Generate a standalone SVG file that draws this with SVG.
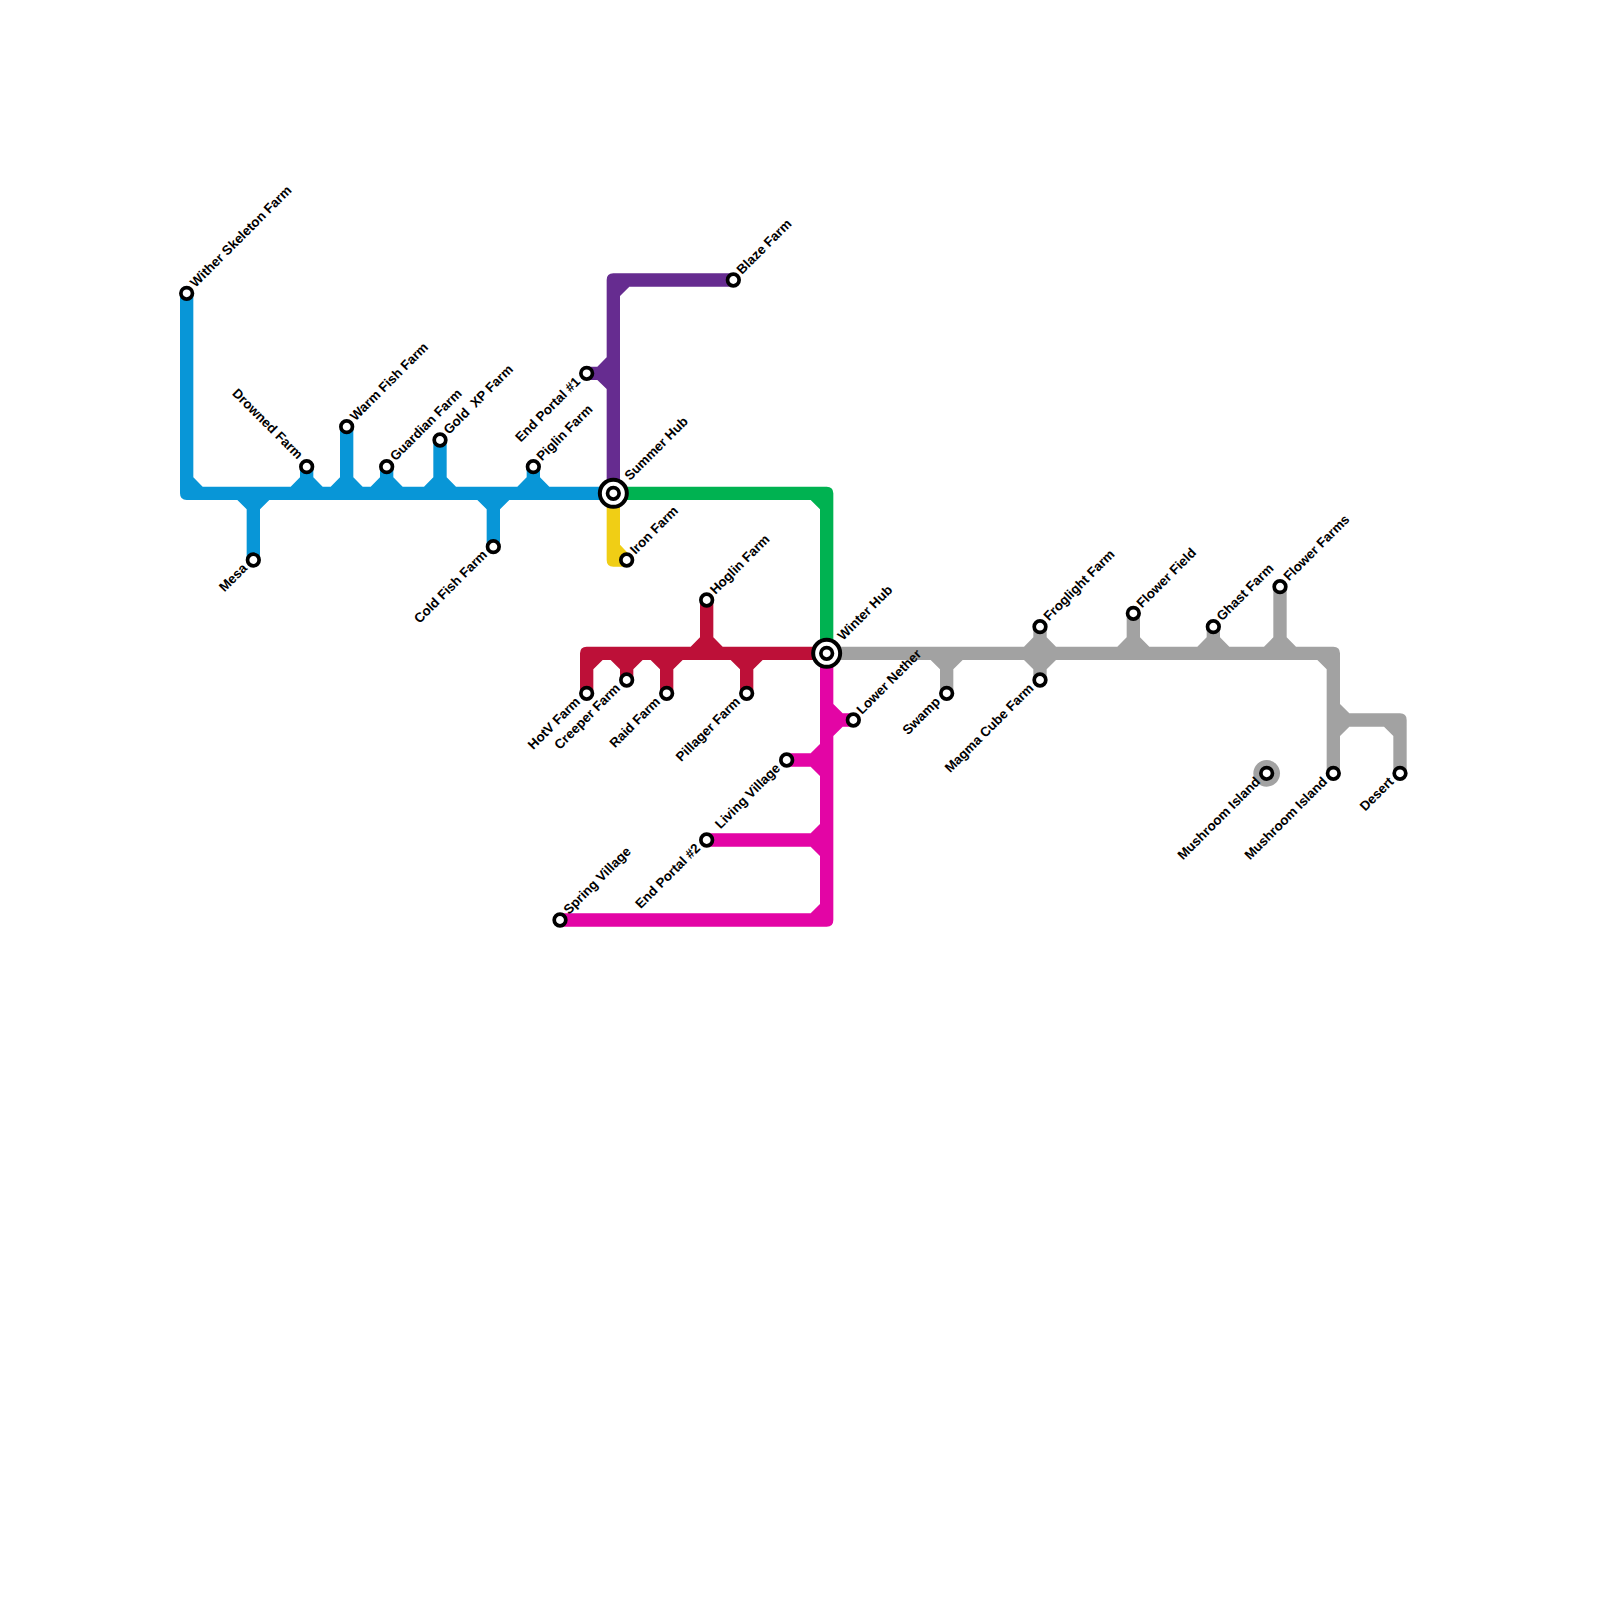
<svg xmlns="http://www.w3.org/2000/svg" width="1600" height="1600" viewBox="0 0 1600 1600">
<style>
text{font-family:"Liberation Sans",Arial,sans-serif;font-weight:700;font-size:13.33px;fill:#000;white-space:pre}
.e{text-anchor:end}
.st{fill:#fff;stroke:#000;stroke-width:3.7}
.hub{fill:#fff;stroke:#000;stroke-width:4}
</style>
<defs>
<circle id="s" class="st" r="5.8"/>
</defs>
<rect width="1600" height="1600" fill="#fff"/>
<g id="connectors">
<path id="line-blue" fill="#0896d7" d="M180 293.33H193.33V477.33L202.67 486.67H290.67L300 477.33V466.67H313.33V477.33L322.67 486.67H330.67L340 477.33V426.67H353.33V477.33L362.67 486.67H370.67L380 477.33V466.67H393.33V477.33L402.67 486.67H424L433.33 477.33V440H446.67V477.33L456 486.67H517.33L526.67 477.33V466.67H540V477.33L549.33 486.67H613.33V500H509.33L500 509.33V546.67H486.67V509.33L477.33 500H186.67Q180 500 180 493.33Z"/>
<path id="line-blue-mesa" fill="#0896d7" d="M237.33 499H269.33V500L260 509.33V560H246.67V509.33L237.33 500Z"/>
<path id="line-purple" fill="#662c90" d="M613.33 273.33H733.33V286.67H629.33L620 296V493.33H606.67V389L597.33 380H586.67V366.67H597.33L606.67 357.33V280Q606.67 273.33 613.33 273.33Z"/>
<path id="line-yellow" fill="#f0ce15" d="M606.67 493.33H620V544.67L628 553.33L626.67 566.67H613.33Q606.67 566.67 606.67 560Z"/>
<path id="line-green" fill="#00b251" d="M613.33 486.67H826.67Q833.33 486.67 833.33 493.33V653.33H820V509.33L810.67 500H613.33Z"/>
<path id="line-red" fill="#bd1038" d="M586.67 646.67H690.67L700 637.33V600H713.33V637.33L722.67 646.67H826.67V660H762.67L753.33 669.33V693.33H740V669.33L730.67 660H682.67L673.33 669.33V693.33H660V669.33L650.67 660H642.67L633.33 669.33V680H620V669.33L610.67 660H602.67L593.33 669.33V693.33H580V653.33Q580 646.67 586.67 646.67Z"/>
<path id="line-pink" fill="#e305a5" d="M820 653.33H833.33V704L842.67 713.33H853.33V726.67H842.67L833.33 736V920Q833.33 926.67 826.67 926.67H560V913.33H810.67L820 904V856L810.67 846.67H706.67V833.33H810.67L820 824V776L810.67 766.67H786.67V753.33H810.67L820 744Z"/>
<path id="line-gray" fill="#a2a2a2" d="M826.67 646.67H1024L1033.33 637.33V626.67H1046.67V637.33L1056 646.67H1117.33L1126.67 637.33V613.33H1140V637.33L1149.33 646.67H1197.33L1206.67 637.33V626.67H1220V637.33L1229.33 646.67H1264L1273.33 637.33V586.67H1286.67V637.33L1296 646.67H1333.33Q1340 646.67 1340 653.33V704L1349.33 713.33H1400Q1406.67 713.33 1406.67 720V773.33H1393.33V736L1384 726.67H1349.33L1340 736V773.33H1326.67V669.33L1317.33 660H1056L1046.67 669.33V680H1033.33V669.33L1024 660H962.67L953.33 669.33V693.33H940V669.33L930.67 660H826.67Z"/>
<circle id="line-gray-iso" cx="1266.67" cy="773.33" r="13.33" fill="#a2a2a2"/>
</g>
<g id="n-wither"><use href="#s" x="186.67" y="293.33"/><text transform="translate(195.5 288) rotate(-45)">Wither Skeleton Farm</text></g>
<g id="n-mesa"><use href="#s" x="253.33" y="560"/><text class="e" transform="translate(248 569) rotate(-45)">Mesa</text></g>
<g id="n-drowned"><use href="#s" x="306.67" y="466.67"/><text class="e" transform="translate(297.5 460) rotate(45)">Drowned Farm</text></g>
<g id="n-warm"><use href="#s" x="346.67" y="426.67"/><text transform="translate(355.5 421.5) rotate(-45)">Warm Fish Farm</text></g>
<g id="n-guardian"><use href="#s" x="386.67" y="466.67"/><text transform="translate(395.5 461.5) rotate(-45)">Guardian Farm</text></g>
<g id="n-gold"><use href="#s" x="440" y="440"/><text transform="translate(449 435) rotate(-45)">Gold  XP Farm</text></g>
<g id="n-cold"><use href="#s" x="493.33" y="546.67"/><text class="e" transform="translate(488 555.5) rotate(-45)">Cold Fish Farm</text></g>
<g id="n-piglin"><use href="#s" x="533.33" y="466.67"/><text transform="translate(542 461.5) rotate(-45)">Piglin Farm</text></g>
<g id="n-end1"><use href="#s" x="586.67" y="373.33"/><text class="e" transform="translate(581 382.5) rotate(-45)">End Portal #1</text></g>
<g id="n-blaze"><use href="#s" x="733.33" y="280"/><text transform="translate(742 275) rotate(-45)">Blaze Farm</text></g>
<g id="n-iron"><use href="#s" x="626.67" y="560"/><text transform="translate(635.5 555) rotate(-45)">Iron Farm</text></g>
<g id="n-summer"><circle class="hub" cx="613.33" cy="493.33" r="13.5"/><use href="#s" x="613.33" y="493.33"/><text transform="translate(630 481) rotate(-45)">Summer Hub</text></g>
<g id="n-winter"><circle class="hub" cx="826.67" cy="653.33" r="13.5"/><use href="#s" x="826.67" y="653.33"/><text transform="translate(843 641) rotate(-45)">Winter Hub</text></g>
<g id="n-hotv"><use href="#s" x="586.67" y="693.33"/><text class="e" transform="translate(581 702.5) rotate(-45)">HotV Farm</text></g>
<g id="n-creeper"><use href="#s" x="626.67" y="680"/><text class="e" transform="translate(621 689) rotate(-45)">Creeper Farm</text></g>
<g id="n-raid"><use href="#s" x="666.67" y="693.33"/><text class="e" transform="translate(661 702.5) rotate(-45)">Raid Farm</text></g>
<g id="n-pillager"><use href="#s" x="746.67" y="693.33"/><text class="e" transform="translate(741 702.5) rotate(-45)">Pillager Farm</text></g>
<g id="n-hoglin"><use href="#s" x="706.67" y="600"/><text transform="translate(715.5 595) rotate(-45)">Hoglin Farm</text></g>
<g id="n-lower"><use href="#s" x="853.33" y="720"/><text transform="translate(862 715) rotate(-45)">Lower Nether</text></g>
<g id="n-living"><use href="#s" x="786.67" y="760"/><text class="e" transform="translate(781 769) rotate(-45)">Living Village</text></g>
<g id="n-end2"><use href="#s" x="706.67" y="840"/><text class="e" transform="translate(701 849) rotate(-45)">End Portal #2</text></g>
<g id="n-spring"><use href="#s" x="560" y="920"/><text transform="translate(569 915) rotate(-45)">Spring Village</text></g>
<g id="n-swamp"><use href="#s" x="946.67" y="693.33"/><text class="e" transform="translate(941 702.5) rotate(-45)">Swamp</text></g>
<g id="n-froglight"><use href="#s" x="1040" y="626.67"/><text transform="translate(1049 621.5) rotate(-45)">Froglight Farm</text></g>
<g id="n-magma"><use href="#s" x="1040" y="680"/><text class="e" transform="translate(1034.5 689) rotate(-45)">Magma Cube Farm</text></g>
<g id="n-field"><use href="#s" x="1133.33" y="613.33"/><text transform="translate(1142 608.5) rotate(-45)">Flower Field</text></g>
<g id="n-ghast"><use href="#s" x="1213.33" y="626.67"/><text transform="translate(1222 621.5) rotate(-45)">Ghast Farm</text></g>
<g id="n-farms"><use href="#s" x="1280" y="586.67"/><text transform="translate(1289 581.5) rotate(-45)">Flower Farms</text></g>
<g id="n-mush1"><use href="#s" x="1266.67" y="773.33"/><text class="e" transform="translate(1261 782.5) rotate(-45)">Mushroom Island</text></g>
<g id="n-mush2"><use href="#s" x="1333.33" y="773.33"/><text class="e" transform="translate(1328 782.5) rotate(-45)">Mushroom Island</text></g>
<g id="n-desert"><use href="#s" x="1400" y="773.33"/><text class="e" transform="translate(1394.5 782.5) rotate(-45)">Desert</text></g>
</svg>
